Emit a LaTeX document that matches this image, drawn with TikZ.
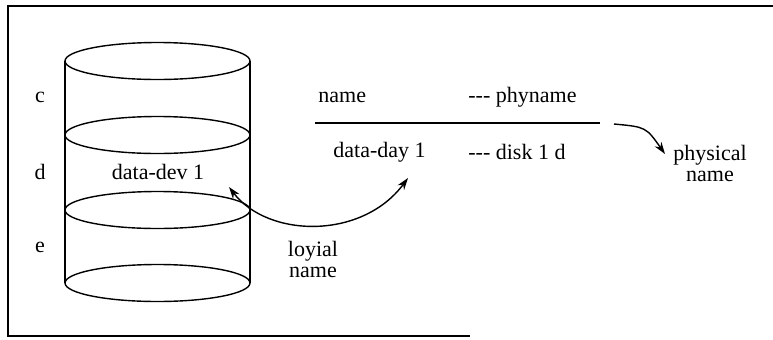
\documentclass[tikz,border=0pt]{standalone}
\usepackage{fontspec}
\setmainfont{Liberation Serif}
\usetikzlibrary{arrows.meta}

\tikzset{
  txt/.style={font=\fontsize{11}{10.5}\selectfont, inner sep=1pt},
  twoline/.style={txt, align=center},
  thin/.style={line width=0.7pt},
  pointer/.style={thin, -{Stealth[length=6pt,width=4pt]}}
}

\begin{document}
\begin{tikzpicture}[x=0.5pt,y=-0.5pt]
\useasboundingbox (0,0) rectangle (773,339);

% Draw frame (right side open)
\draw[line width=0.9pt] (773,6) -- (8,6) -- (8,336) -- (470,336);

% Draw cylinder
\draw[thin] (65,61) -- (65,283);
\draw[thin] (250,61) -- (250,283);
\foreach \y in {61,135,210,283}
  \draw[thin] (157.5,\y) ellipse [x radius=92.5, y radius=18.5];

% Side labels
\node[txt] (c) at (40,97) {c};
\node[txt] (d) at (40,172) {d};
\node[txt] (e) at (40,247) {e};

% Table of names
\node[txt] (devname) at (158,172) {data-dev 1};
\node[txt, anchor=west] (name) at (316,97) {name};
\node[txt, anchor=west] (phy) at (466,97) {{-}{-}{-} phyname};
\node[txt, anchor=west] (day) at (331,152) {data-day 1};
\node[txt, anchor=west] (disk) at (466,152) {{-}{-}{-} disk 1 d};
\coordinate (ruleA) at (315,123);
\coordinate (ruleB) at (600,123);
\draw[thin] (ruleA) -- (ruleB);

% Draw logical name link
\node[twoline] (logical) at (313,259) {loyial\\name};
\coordinate (devtip) at (229,187);
\coordinate (daytip) at (408,178);
\draw[thin, {Stealth[length=6pt,width=4pt]}-{Stealth[length=6pt,width=4pt]}]
  (devtip) .. controls (268,238) and (362,240) .. (daytip);

% Draw physical name pointer
\node[twoline] (physical) at (710,163) {physical\\name};
\coordinate (phystart) at (614,124);
\coordinate (phytip) at (665,154);
\draw[pointer] (phystart) .. controls (646,127) .. (phytip);

\end{tikzpicture}
\end{document}
